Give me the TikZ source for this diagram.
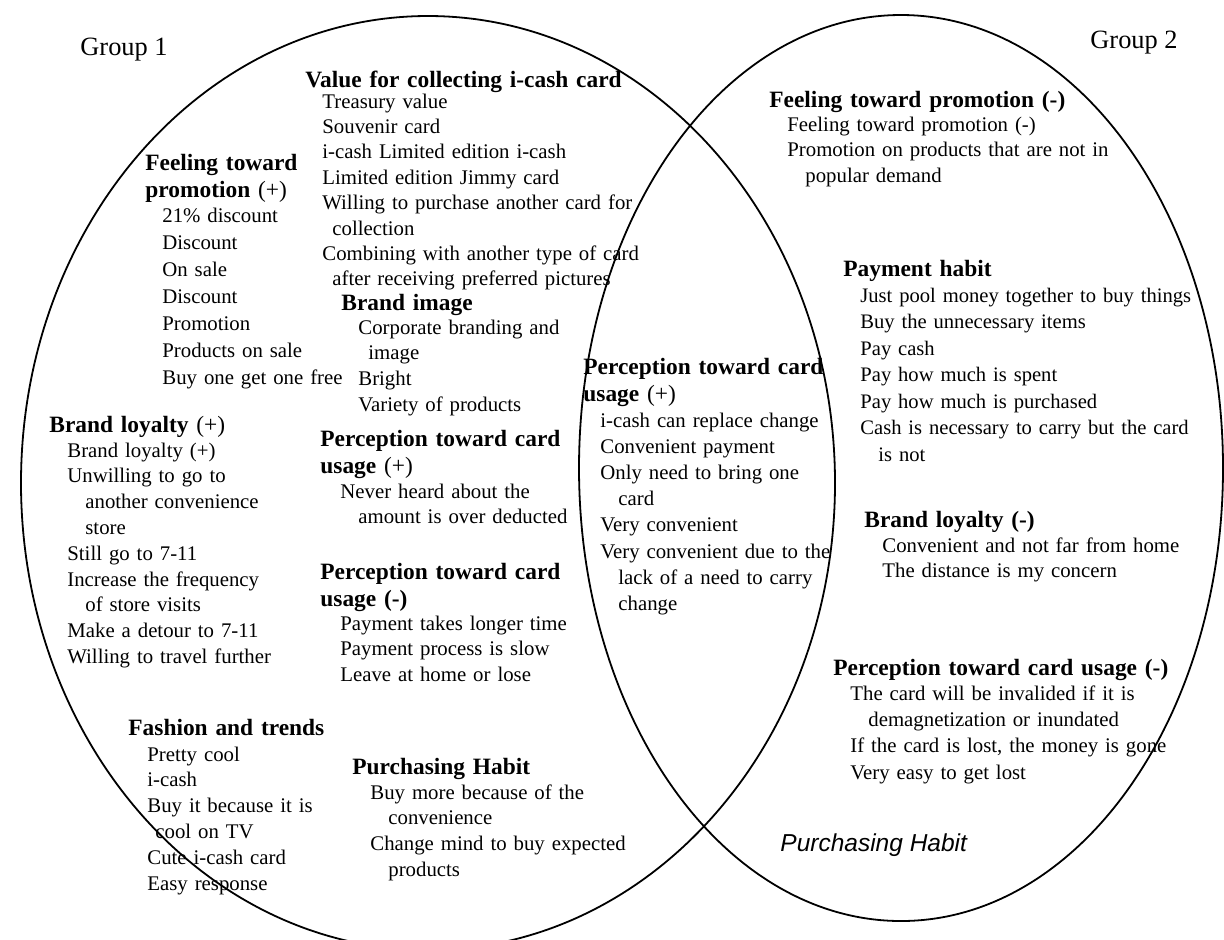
\documentclass[tikz,border=0pt]{standalone}
\usepackage{fontspec}
\setmainfont{Liberation Serif}
\newfontfamily\arialfont{Liberation Sans}
\usetikzlibrary{positioning}

\newcommand{\hangA}{\hspace*{5pt}}
\newcommand{\hangB}{\hspace*{9pt}}

\begin{document}
\begin{tikzpicture}[
    x=0.5pt, y=-0.5pt,
    venn/.style={line width=0.9pt},
    grouplabel/.style={font=\fontsize{13.2}{15}\selectfont, anchor=base west, inner sep=0pt},
    heading/.style={font=\fontsize{11.7}{13.75}\selectfont\bfseries, anchor=base west, inner sep=0pt, text width=210pt, align=left},
    entries/.style={font=\fontsize{10.4}{12.9}\selectfont, anchor=base west, inner sep=0pt, text width=210pt, align=left},
    loose entries/.style={entries, font=\fontsize{10.4}{13.5}\selectfont},
    sansitalic/.style={font=\arialfont\itshape\fontsize{12.25}{14}\selectfont, anchor=base west, inner sep=0pt}
]
\useasboundingbox (0,0) rectangle (1224,939);
\clip (0,0) rectangle (1224,939);

% the two groups
\draw[venn] (428,483) ellipse [x radius=407, y radius=467];
\draw[venn] (901,468) ellipse [x radius=322, y radius=453];

\node[grouplabel] (g1) at (80,55) {Group 1};
\node[grouplabel] (g2) at (1090,48) {Group 2};

% group 1
\node[heading] (collecthd) at (305,87) {Value for collecting i-cash card};
\node[entries, font=\fontsize{10.4}{12.7}\selectfont] (collect) at (322,108) {Treasury value\\Souvenir card\\i-cash Limited edition i-cash\\Limited edition Jimmy card\\Willing to purchase another card for\\\hangA collection\\Combining with another type of card\\\hangA after receiving preferred pictures};

\node[heading] (promoplushd) at (145,170) {Feeling toward\\promotion {\mdseries(+)}};
\node[loose entries] (promoplus) at (162,222) {21\% discount\\Discount\\On sale\\Discount\\Promotion\\Products on sale\\Buy one get one free};

\node[heading] (imagehd) at (341,310) {Brand image};
\node[entries] (image) at (358,334) {Corporate branding and\\\hangA image\\Bright\\Variety of products};

\node[heading] (loyalplushd) at (49,432) {Brand loyalty {\mdseries(+)}};
\node[entries] (loyalplus) at (67,457) {Brand loyalty (+)\\Unwilling to go to\\\hangB another convenience\\\hangB store\\Still go to 7-11\\Increase the frequency\\\hangB of store visits\\Make a detour to 7-11\\Willing to travel further};

\node[heading] (cardplushd) at (320,446) {Perception toward card\\usage {\mdseries(+)}};
\node[entries] (cardplus) at (340,498) {Never heard about the\\\hangB amount is over deducted};

\node[heading] (cardminushd) at (320,579) {Perception toward card\\usage (-)};
\node[entries] (cardminus) at (340,630) {Payment takes longer time\\Payment process is slow\\Leave at home or lose};

\node[heading] (fashionhd) at (128,735) {Fashion and trends};
\node[entries] (fashion) at (147,761) {Pretty cool\\i-cash\\Buy it because it is\\\hspace*{4pt}cool on TV\\Cute i-cash card\\Easy response};

\node[heading] (purchasehd) at (352,774) {Purchasing Habit};
\node[entries] (purchase) at (370,799) {Buy more because of the\\\hangB convenience\\Change mind to buy expected\\\hangB products};

% shared
\node[heading] (sharedhd) at (583,374) {Perception toward card\\usage {\mdseries(+)}};
\node[entries, font=\fontsize{10.4}{13.1}\selectfont] (shared) at (600,427) {i-cash can replace change\\Convenient payment\\Only need to bring one\\\hangB card\\Very convenient\\Very convenient due to the\\\hangB lack of a need to carry\\\hangB change};

% group 2
\node[heading] (promominushd) at (769,107) {Feeling toward promotion (-)};
\node[entries] (promominus) at (787,131) {Feeling toward promotion (-)\\Promotion on products that are not in\\\hangB popular demand};

\node[heading] (paymenthd) at (843,276) {Payment habit};
\node[entries, font=\fontsize{10.3}{13.25}\selectfont] (payment) at (860,302) {Just pool money together to buy things\\Buy the unnecessary items\\Pay cash\\Pay how much is spent\\Pay how much is purchased\\Cash is necessary to carry but the card\\\hangB is not};

\node[heading] (loyalminushd) at (864,527) {Brand loyalty (-)};
\node[entries] (loyalminus) at (882,552) {Convenient and not far from home\\The distance is my concern};

\node[heading] (usageminushd) at (833,675) {Perception toward card usage (-)};
\node[entries, font=\fontsize{10.4}{13.2}\selectfont] (usageminus) at (850,700) {The card will be invalided if it is\\\hangB demagnetization or inundated\\If the card is lost, the money is gone\\Very easy to get lost};

\node[sansitalic] (purchase2hd) at (780,851) {Purchasing Habit};

\end{tikzpicture}
\end{document}
